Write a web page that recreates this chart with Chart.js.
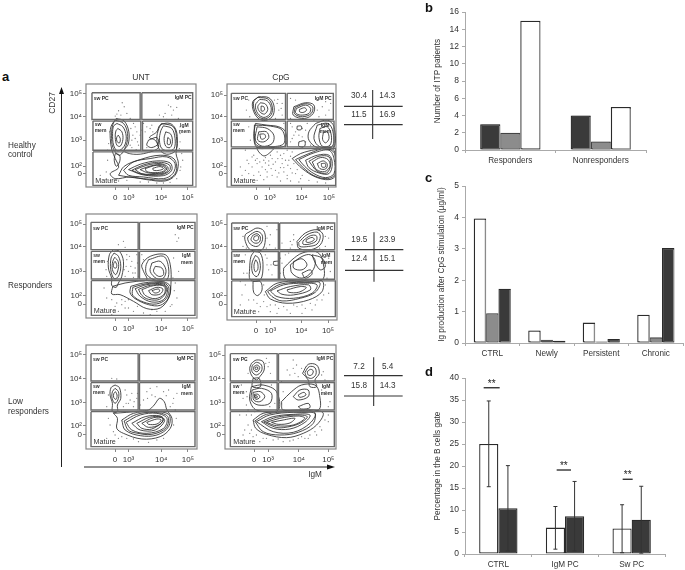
<!DOCTYPE html>
<html><head><meta charset="utf-8">
<script src="https://cdn.jsdelivr.net/npm/chart.js@4"></script>
<style>
html,body{margin:0;padding:0;background:#fff;width:685px;height:570px;overflow:hidden;font-family:"Liberation Sans",Arial,sans-serif;color:#333}
canvas{position:absolute}
.t{position:absolute;white-space:nowrap;transform:translateY(-50%);line-height:1}
svg{position:absolute;left:0;top:0}
</style></head><body>
<svg id="ov" width="685" height="570"></svg>
<script>
/* ---------- panel b ---------- */
const bLabels=["Responders","Nonresponders"];
const bDark=[3,4];
const bGray=[2,1];
const bWhite=[15,5];
/* ---------- panel c ---------- */
const cLabels=["CTRL","Newly","Persistent","Chronic"];
const cWhite=[3.97,0.4,0.65,0.9];
const cGray=[0.95,0.1,0.05,0.18];
const cDark=[1.73,0.07,0.13,3.03];
/* ---------- panel d ---------- */
const dLabels=["CTRL","IgM PC","Sw PC"];
const dWhite=[25,6,5.8];
const dDark=[10.4,8.6,7.8];
const dWhiteLow=[15.3,1.1,0.3];
const dWhiteHigh=[34.8,10.8,11.2];
const dDarkLow=[0.7,0.7,0.2];
const dDarkHigh=[20.1,16.5,15.4];
const dSigLevel=[37.8,19.1,17];
const dSigFrom=[-0.22,-0.125,-0.135];
const dSigTo=[0.02,0.09,0.015];
/* ---------- panel a: percentages ---------- */
const aTableHealthy=["30.4","14.3","11.5","16.9"];
const aTableResponders=["19.5","23.9","12.4","15.1"];
const aTableLow=["7.2","5.4","15.8","14.3"];
/* ---------- panel a: flow plots, in display channels ---------- */
const xTickNames=["0","10³","10⁴","10⁵"];
const yTickNames=["10⁵","10⁴","10³","10²","0"];
const p1Contours=[
[[348,175],[372,183],[386,215],[384,252],[372,272],[400,282],[440,278],[475,262],[465,240],[448,232],[470,215],[480,195],[510,190],[528,210],[532,250],[528,280],[535,310],[525,345],[495,362],[440,358],[390,350],[345,355],[330,340],[355,322],[345,295],[335,270],[330,235],[332,200]],
[[345,180],[370,190],[382,220],[378,255],[358,285],[338,262],[334,225],[337,195]],
[[350,190],[368,200],[378,228],[372,258],[352,272],[340,255],[337,220],[340,198]],
[[353,205],[365,215],[368,238],[360,258],[350,255],[345,232],[347,212]],
[[354,225],[360,235],[358,248],[351,245],[349,233]],
[[345,280],[358,285],[358,305],[348,318],[342,300]],
[[484,190],[520,200],[530,240],[526,272],[500,282],[478,268],[470,235],[476,205]],
[[490,197],[515,205],[525,235],[522,265],[505,272],[485,265],[478,240],[482,212]],
[[497,215],[512,222],[517,245],[510,262],[497,258],[492,235]],
[[503,232],[510,238],[510,252],[502,252]],
[[355,345],[372,318],[420,298],[480,285],[522,296],[528,335],[500,358],[430,355],[385,350]],
[[370,330],[400,305],[450,295],[500,290],[525,310],[518,340],[490,355],[430,350],[385,345]],
[[385,328],[420,312],[470,302],[510,308],[515,330],[490,346],[430,344]],
[[395,330],[430,314],[475,306],[508,314],[508,332],[480,344],[428,342]],
[[405,328],[440,315],[480,310],[503,320],[500,335],[470,342],[425,340]],
[[420,328],[455,316],[488,314],[500,326],[485,338],[445,338]],
[[435,325],[470,315],[495,322],[490,333],[465,337],[440,334]],
[[458,324],[480,319],[490,325],[478,330],[460,330]],
[[445,240],[470,232],[475,250],[455,262],[440,255]]];
const p2Contours=[
[[775,110],[805,113],[820,135],[818,165],[800,180],[778,178],[760,155],[757,125]],
[[772,112],[803,117],[815,138],[813,162],[795,176],[775,170],[762,150],[760,125]],
[[778,118],[800,122],[812,142],[808,162],[790,172],[772,160],[765,135]],
[[780,128],[795,132],[802,148],[792,162],[778,155],[772,140]],
[[782,138],[790,140],[792,150],[783,153]],
[[880,140],[915,128],[940,135],[938,160],[912,175],[878,165]],
[[884,142],[915,131],[936,140],[932,160],[906,170],[882,161]],
[[888,145],[915,135],[930,145],[925,160],[900,165],[885,158]],
[[897,148],[912,143],[918,150],[908,157],[897,155]],
[[765,190],[800,195],[835,200],[855,215],[855,255],[815,262],[770,262],[760,230]],
[[762,195],[810,198],[845,210],[850,250],[805,260],[768,255],[762,225]],
[[770,200],[800,205],[820,225],[815,250],[785,258],[765,240]],
[[775,215],[798,215],[805,232],[790,245],[772,240]],
[[778,222],[792,222],[795,232],[783,237]],
[[768,262],[820,262],[805,280],[790,287],[775,275]],
[[945,190],[980,180],[1000,200],[1000,262],[950,262],[925,240],[925,215]],
[[950,195],[982,190],[997,215],[995,258],[958,260],[940,235]],
[[958,205],[980,200],[992,225],[988,255],[965,258],[955,232]],
[[968,218],[980,215],[985,235],[975,248],[966,238]],
[[875,295],[900,280],[945,268],[990,262],[1005,285],[1005,345],[985,358],[945,350],[905,325]],
[[885,298],[925,280],[975,265],[1002,280],[1003,342],[980,355],[940,346],[908,322]],
[[895,298],[940,278],[985,270],[1000,295],[1000,340],[975,352],[940,340],[912,318]],
[[915,300],[950,285],[985,285],[995,310],[985,340],[955,338],[925,322]],
[[925,303],[955,288],[985,290],[990,315],[978,338],[950,333]],
[[935,305],[960,292],[982,298],[988,318],[972,334],[948,328]],
[[950,310],[968,302],[980,312],[975,326],[958,325]],
[[962,310],[974,310],[974,320],[964,320]],
[[895,245],[912,242],[912,258],[895,258]],
[[890,198],[902,198],[902,208],[890,208]]];
const p3Contours=[
[[340,135],[358,140],[370,170],[365,215],[355,235],[348,248],[335,242],[335,222],[325,190],[328,150]],
[[342,145],[355,155],[362,185],[355,215],[342,222],[332,195],[333,160]],
[[344,158],[354,170],[355,190],[347,210],[337,195],[338,170]],
[[345,170],[350,180],[348,190],[341,188],[341,176]],
[[338,245],[375,235],[410,230],[440,225],[430,200],[425,180],[450,155],[495,150],[510,180],[512,240],[505,280],[480,310],[440,312],[400,290],[360,270],[335,268]],
[[445,165],[490,155],[505,190],[500,225],[470,228],[440,210],[437,185]],
[[455,175],[480,170],[497,195],[490,220],[470,222],[450,200]],
[[465,185],[485,190],[490,210],[475,215],[460,200]],
[[392,245],[430,235],[490,232],[510,245],[505,280],[480,302],[445,300],[405,282],[390,265]],
[[398,248],[435,238],[490,235],[506,250],[498,282],[468,298],[430,292],[398,272]],
[[405,252],[440,240],[490,238],[502,255],[490,285],[455,292],[420,275]],
[[415,254],[450,242],[492,242],[498,260],[478,284],[445,284],[425,272]],
[[425,255],[460,243],[492,245],[492,268],[465,282],[435,272]],
[[445,258],[470,248],[488,253],[480,268],[455,270]],
[[455,258],[475,253],[478,260],[465,265]]];
const p4Contours=[
[[750,80],[770,70],[790,78],[795,105],[785,135],[750,135],[735,110],[735,90]],
[[752,88],[770,80],[785,90],[785,110],[770,125],[750,118],[742,100]],
[[757,92],[770,87],[780,97],[777,112],[763,115],[752,105]],
[[762,95],[772,93],[775,102],[768,108],[760,104]],
[[890,110],[915,85],[950,75],[968,90],[960,120],[930,135],[895,130]],
[[895,113],[920,90],[950,82],[960,95],[950,118],[925,125],[898,125]],
[[908,108],[930,93],[948,93],[948,108],[928,118],[908,118]],
[[918,105],[935,98],[942,104],[930,112],[918,112]],
[[762,140],[780,145],[788,180],[780,225],[750,225],[748,190],[752,155]],
[[765,152],[775,160],[780,190],[770,215],[757,205],[755,175]],
[[766,165],[772,175],[772,195],[764,200],[761,180]],
[[758,230],[780,230],[785,255],[772,272],[760,262]],
[[850,190],[875,165],[905,145],[945,140],[965,160],[965,225],[860,225],[850,210]],
[[870,180],[905,155],[930,150],[945,170],[935,200],[905,220],[875,205]],
[[880,170],[905,162],[920,180],[905,195],[880,190]],
[[905,205],[930,195],[935,208],[915,220]],
[[935,150],[965,160],[975,185],[960,195],[945,175]],
[[795,260],[830,235],[900,228],[965,228],[965,260],[925,285],[860,295],[810,282]],
[[802,260],[840,238],[905,232],[958,233],[945,262],[900,280],[845,288],[815,275]],
[[810,258],[850,240],[910,235],[950,240],[935,265],[880,280],[830,275]],
[[830,258],[870,245],[925,240],[930,255],[880,270],[845,268]],
[[860,255],[900,245],[918,248],[895,262],[865,262]],
[[820,170],[835,170],[835,180],[820,180]]];
const p5Contours=[
[[345,150],[358,158],[362,190],[352,210],[352,230],[337,230],[337,205],[330,180],[333,158]],
[[345,160],[355,170],[355,190],[345,205],[336,190],[337,170]],
[[346,170],[351,180],[348,193],[341,188],[341,176]],
[[340,235],[380,232],[420,228],[445,225],[462,210],[478,190],[492,200],[500,225],[515,250],[510,280],[480,305],[425,312],[370,295],[350,280],[352,250]],
[[365,255],[400,235],[450,230],[505,238],[505,275],[470,300],[420,302],[375,285]],
[[372,258],[410,238],[460,232],[502,244],[498,278],[455,298],[408,294],[384,285]],
[[378,262],[420,240],[470,235],[500,250],[490,280],[440,295],[395,285]],
[[395,265],[435,245],[480,243],[493,258],[465,285],[420,285]],
[[410,265],[448,247],[484,246],[488,258],[455,282],[425,280]],
[[425,265],[460,248],[488,250],[480,268],[445,277]],
[[440,262],[470,252],[483,255],[470,267],[445,268]]];
const p6Contours=[
[[755,85],[770,75],[790,80],[793,105],[780,125],[770,135],[755,120],[750,100]],
[[757,92],[770,82],[785,90],[785,108],[770,120],[757,110]],
[[762,95],[772,90],[780,98],[772,110],[762,105]],
[[766,97],[773,96],[774,102],[767,103]],
[[760,130],[778,130],[782,155],[758,155]],
[[908,115],[925,88],[950,90],[958,115],[945,135],[950,155],[930,155],[925,135]],
[[915,112],[928,95],[945,98],[948,118],[935,130],[920,125]],
[[922,110],[932,103],[940,108],[935,120],[925,120]],
[[755,155],[790,150],[830,170],[835,225],[770,225],[750,195]],
[[757,165],[785,160],[815,175],[810,205],[775,210],[755,195]],
[[760,172],[782,170],[795,185],[780,200],[762,195]],
[[763,178],[775,178],[780,187],[768,193]],
[[765,182],[772,183],[772,188],[766,188]],
[[845,200],[875,170],[905,150],[945,150],[958,175],[955,225],[850,225]],
[[880,185],[900,165],[925,165],[925,185],[895,195]],
[[895,180],[912,172],[918,180],[900,187]],
[[895,215],[925,205],[930,218],[905,222]],
[[760,255],[790,235],[850,228],[940,225],[970,235],[950,270],[910,295],[860,308],[800,298],[768,280]],
[[765,258],[800,238],[865,230],[942,230],[940,265],[895,292],[840,300],[790,290]],
[[770,260],[810,240],[880,232],[945,235],[930,265],[880,292],[820,290]],
[[785,260],[820,245],[880,238],[930,240],[915,262],[870,282],[820,280]],
[[792,261],[830,247],[888,240],[922,245],[898,266],[850,278],[825,276]],
[[800,262],[840,250],[895,243],[915,250],[880,270],[830,272]],
[[815,262],[850,255],[885,250],[870,264],[835,268]]];
const p1Dots=[[366,128],[372,140],[355,152],[380,160],[505,135],[520,150],[495,160],[530,142],[490,170],[515,165],[400,190],[410,215],[395,240],[415,255],[395,262],[405,200],[440,200],[430,190],[455,195],[440,262],[420,225],[540,245],[545,280],[548,300],[540,330],[322,300],[318,335],[330,360],[380,360],[420,365],[470,368],[510,366],[530,355],[360,178],[345,168],[390,175],[300,345],[540,200],[535,175],[392,205],[398,225],[405,235],[412,245],[390,255],[425,210],[435,215],[450,205],[458,215],[408,268],[425,270],[322,270],[325,250],[328,215],[500,178],[525,178],[512,140],[478,165],[362,165],[350,162],[540,220],[538,265],[542,320],[355,362],[445,365],[490,368]];
const p2Dots=[[745,120],[738,150],[748,170],[830,130],[835,150],[845,165],[870,115],[885,120],[950,120],[965,140],[975,165],[960,110],[990,130],[850,190],[875,200],[880,225],[870,245],[905,230],[920,190],[885,215],[915,210],[930,255],[745,200],[750,240],[735,270],[760,285],[770,295],[790,300],[810,285],[830,275],[850,280],[865,300],[845,310],[825,305],[805,315],[785,320],[770,310],[755,320],[775,335],[800,335],[825,330],[850,335],[870,325],[885,340],[905,345],[925,360],[895,365],[860,355],[830,350],[800,350],[770,360],[745,340],[740,300],[720,320],[725,345],[880,310],[860,270],[845,295],[815,295],[795,308],[780,345],[815,345],[840,322],[860,345],[900,355],[950,365],[975,368],[880,265],[905,262],[755,290],[765,300],[778,305],[795,292],[805,302],[818,312],[832,295],[840,285],[855,300],[870,288],[875,275],[795,328],[812,325],[835,338],[850,322],[862,315],[875,338],[890,328],[745,310],[735,330],[760,345],[790,358],[840,362],[870,362],[822,120],[832,118],[845,130],[842,145],[825,175],[870,175],[950,150],[955,170],[985,150],[975,125],[870,190],[895,225],[915,245],[905,205],[875,235],[940,180]];
const p3Dots=[[370,110],[355,120],[375,128],[525,90],[535,100],[530,110],[380,150],[395,170],[405,190],[385,200],[410,150],[375,215],[415,215],[405,205],[430,165],[520,160],[535,200],[525,235],[530,280],[515,300],[320,215],[312,250],[320,280],[335,285],[345,305],[365,300],[385,310],[400,320],[430,325],[470,320],[355,320],[335,330],[375,290],[495,320],[450,330],[425,150],[380,165],[378,185],[392,185],[398,205],[372,195],[388,155],[400,218],[412,175],[385,285],[365,285],[350,295],[345,320],[375,310],[412,305],[455,315],[510,305],[522,258],[518,220],[322,170],[318,195]];
const p4Dots=[[725,70],[728,125],[800,65],[810,90],[808,120],[830,75],[825,130],[880,90],[875,120],[845,115],[970,70],[985,100],[975,125],[870,130],[800,160],[805,195],[815,210],[795,150],[720,170],[730,205],[735,150],[840,160],[855,150],[840,205],[985,160],[990,200],[980,220],[735,240],[725,270],[745,285],[790,290],[780,305],[810,300],[835,310],[860,315],[890,305],[915,310],[945,300],[965,285],[985,265],[720,300],[750,315],[810,320],[905,325],[775,320],[975,240],[740,205],[865,145],[880,105],[885,135],[870,110],[975,95],[968,135],[958,130],[800,100],[798,130],[728,95],[738,130],[720,230],[790,240],[792,270],[760,285],[770,295],[800,305],[825,300],[850,305],[880,300],[905,300],[930,295],[950,285],[970,270],[830,325],[870,325],[935,315],[800,180],[812,180],[845,175]];
const p5Dots=[[335,130],[350,132],[375,165],[395,175],[385,205],[400,215],[410,190],[370,215],[440,170],[430,195],[450,160],[470,155],[490,170],[505,165],[520,190],[530,175],[510,215],[525,225],[420,210],[325,250],[330,270],[340,290],[320,310],[355,310],[380,310],[415,320],[470,315],[520,270],[528,250],[490,310],[465,185],[380,180],[390,195],[402,200],[378,205],[412,175],[442,190],[455,180],[498,182],[518,205],[325,180],[320,215],[345,300],[365,305],[400,312],[445,322]];
const p6Dots=[[740,75],[745,115],[800,70],[805,95],[812,115],[880,100],[870,120],[895,125],[905,100],[880,75],[970,110],[975,135],[845,140],[725,150],[730,190],[740,210],[815,150],[850,170],[965,165],[990,200],[985,215],[740,240],[745,270],[750,295],[735,285],[770,300],[780,320],[820,315],[850,320],[895,310],[930,300],[960,275],[975,255],[985,240],[730,300],[800,310],[870,318],[915,310],[945,290],[720,240],[765,230],[798,85],[808,82],[885,115],[862,105],[890,90],[965,120],[978,170],[740,170],[742,185],[810,215],[825,205],[745,225],[755,240],[755,285],[760,305],[790,310],[835,312],[880,315],[905,305],[925,310],[950,300],[965,285],[985,260]];
const gatesP1=[[275,98,420,178],[425,98,578,178],[278,183,422,270],[427,183,578,270],[278,275,578,375]];
const gatesP2=[[693,100,855,178],[860,100,998,178],[693,183,855,260],[860,183,1000,260],[693,265,1005,375]];
const gatesP3=[[273,53,414,135],[418,53,584,135],[274,140,414,223],[418,140,584,223],[274,228,584,332]];
const gatesP4=[[694,55,834,135],[838,55,1003,135],[694,140,834,223],[838,140,1003,223],[694,228,1005,335]];
const gatesP5=[[273,56,414,138],[418,56,584,138],[273,143,414,225],[418,143,584,225],[273,230,584,335]];
const gatesP6=[[692,56,832,138],[836,56,1003,138],[692,143,832,225],[836,143,1003,225],[692,230,1003,335]];
const xTicksP1=[345,385,483,563], yTicksP1=[100,170,240,318,340];
const xTicksP2=[767,808,903,985], yTicksP2=[105,170,243,318,340];
const xTicksP3=[345,385,483,563], yTicksP3=[58,125,200,272,298];
const xTicksP4=[767,810,903,983], yTicksP4=[58,125,200,272,298];
const xTicksP5=[345,385,483,563], yTicksP5=[58,130,202,272,298];
const xTicksP6=[763,805,897,985], yTicksP6=[60,130,202,272,298];

/* ---------- layout ---------- */
const PLOTS=[
 {contours:p1Contours,dots:p1Dots,gates:gatesP1,xt:xTicksP1,yt:yTicksP1,frame:[257,72,588,380],off:60},
 {contours:p2Contours,dots:p2Dots,gates:gatesP2,xt:xTicksP2,yt:yTicksP2,frame:[680,72,1006,380],off:60},
 {contours:p3Contours,dots:p3Dots,gates:gatesP3,xt:xTicksP3,yt:yTicksP3,frame:[258,28,590,340],off:205},
 {contours:p4Contours,dots:p4Dots,gates:gatesP4,xt:xTicksP4,yt:yTicksP4,frame:[680,28,1010,345],off:205},
 {contours:p5Contours,dots:p5Dots,gates:gatesP5,xt:xTicksP5,yt:yTicksP5,frame:[258,30,590,342],off:335},
 {contours:p6Contours,dots:p6Dots,gates:gatesP6,xt:xTicksP6,yt:yTicksP6,frame:[676,30,1008,342],off:335}];
const FF='"Liberation Sans",Arial,sans-serif';
function text(s,x,y,o={}){
  const d=document.createElement('div');d.className='t';d.textContent=s;
  d.style.left=x+'px';d.style.top=y+'px';
  d.style.fontSize=(o.size||8.2)+'px';
  if(o.bold)d.style.fontWeight='bold';
  if(o.color)d.style.color=o.color;
  if(o.center)d.style.transform='translate(-50%,-50%)';
  if(o.right)d.style.transform='translate(-100%,-50%)';
  if(o.rot)d.style.transform='translate(-50%,-50%) rotate(-90deg)';
  document.body.appendChild(d);
}
function canvas(l,t,w,h){
  const c=document.createElement('canvas');
  c.style.left=l+'px';c.style.top=t+'px';c.style.width=w+'px';c.style.height=h+'px';
  c.width=w;c.height=h;document.body.appendChild(c);return c;
}
function pts(a){return a.map(p=>({x:p[0],y:p[1]}));}
const framePlugin={id:'frame',beforeDatasetsDraw(ch){const a=ch.chartArea,c=ch.ctx;c.save();c.strokeStyle='#858585';c.lineWidth=1.2;c.strokeRect(a.left,a.top,a.right-a.left,a.bottom-a.top);c.restore();}};
const LEFT=30,TOP=6,RIGHT=8,BOTTOM=22;

PLOTS.forEach(p=>{
  const [x0,y0,x1,y1]=p.frame;
  const fl=x0/3,ft=p.off+y0/3,fw=(x1-x0)/3,fh=(y1-y0)/3;
  const c=canvas(fl-LEFT,ft-TOP,Math.round(fw+LEFT+RIGHT),Math.round(fh+TOP+BOTTOM));
  const ds=[];
  p.gates.forEach(g=>ds.push({data:pts([[g[0],g[1]],[g[2],g[1]],[g[2],g[3]],[g[0],g[3]],[g[0],g[1]]]),showLine:true,borderColor:'#6a6a6a',borderWidth:1.4,pointRadius:0,tension:0}));
  p.contours.forEach(k=>ds.push({data:pts(k.concat([k[0]])),showLine:true,borderColor:'#2c2c2c',borderWidth:0.85,pointRadius:0,tension:0.35}));
  ds.push({data:pts(p.dots),showLine:false,pointRadius:0.65,backgroundColor:'#808080',borderWidth:0});
  const xN=Object.fromEntries(p.xt.map((v,i)=>[v,xTickNames[i]]));
  const yN=Object.fromEntries(p.yt.map((v,i)=>[v,yTickNames[i]]));
  new Chart(c,{type:'scatter',data:{datasets:ds},plugins:[framePlugin],options:{
    responsive:false,animation:false,events:[],
    layout:{autoPadding:false,padding:{left:0,top:TOP,right:RIGHT,bottom:0}},
    plugins:{legend:{display:false},tooltip:{enabled:false}},
    scales:{
      x:{type:'linear',min:x0,max:x1,afterFit(s){s.height=BOTTOM;},
        afterBuildTicks(s){s.ticks=p.xt.map(v=>({value:v}));},
        grid:{drawOnChartArea:false,tickLength:3,color:'#888'},border:{display:false},
        ticks:{autoSkip:false,maxRotation:0,padding:3,color:'#333',font:{size:8,family:FF},callback:v=>xN[v]}},
      y:{type:'linear',min:y0,max:y1,reverse:true,afterFit(s){s.width=LEFT;},
        afterBuildTicks(s){s.ticks=p.yt.map(v=>({value:v}));},
        grid:{drawOnChartArea:false,tickLength:3,color:'#888'},border:{display:false},
        ticks:{autoSkip:false,padding:1,color:'#333',font:{size:8,family:FF},callback:v=>yN[v]}}
    }}});
  /* gate captions */
  const g=p.gates, ox=v=>v/3, oy=v=>p.off+v/3;
  text('sw PC',ox(g[0][0])+2,oy(g[0][1])+5,{size:5,bold:true});
  text('IgM PC',ox(g[1][2])-1,oy(g[1][1])+4.5,{size:5,bold:true,right:true});
  text('sw',ox(g[2][0])+2,oy(g[2][1])+3,{size:5,bold:true});
  text('mem',ox(g[2][0])+2,oy(g[2][1])+9,{size:5,bold:true});
  text('IgM',ox(g[3][2])-4,oy(g[3][1])+3.5,{size:5,bold:true,right:true});
  text('mem',ox(g[3][2])-2,oy(g[3][1])+10,{size:5,bold:true,right:true});
  text('Mature',ox(g[4][0])+2.5,oy(g[4][3])-4.5,{size:7.2});
});

/* ---------- bar charts ---------- */
const shadowPlugin={id:'shadow',
  beforeDatasetsDraw(ch){ch.ctx.save();ch.ctx.shadowColor='#8a8a8a';ch.ctx.shadowOffsetX=1.3;ch.ctx.shadowOffsetY=0.3;ch.ctx.shadowBlur=0.5;},
  afterDatasetsDraw(ch){ch.ctx.restore();}};
function barChart(o){
  const c=canvas(o.box[0],o.box[1],o.box[2],o.box[3]);
  return new Chart(c,{type:'bar',data:{labels:o.labels,datasets:o.sets.map(s=>({data:s.data,backgroundColor:s.fill,borderColor:s.line,borderWidth:1.3,borderSkipped:false,barPercentage:1,categoryPercentage:o.cat}))},
   plugins:o.plugins,options:{responsive:false,animation:false,events:[],
    layout:{autoPadding:false,padding:{left:0,top:o.top,right:o.right,bottom:0}},
    plugins:{legend:{display:false},tooltip:{enabled:false}},
    scales:{
      x:{afterFit(s){s.height=o.xh;},grid:{drawOnChartArea:false,tickLength:3,color:'#aaa'},border:{color:'#aaa'},
         ticks:{maxRotation:0,autoSkip:false,padding:3,color:'#333',font:{size:8.2,family:FF}}},
      y:{min:0,max:o.max,afterFit(s){s.width=45;},grid:{drawOnChartArea:false,tickLength:3,color:'#aaa'},border:{color:'#aaa'},
         ticks:{stepSize:o.step,padding:3,color:'#333',font:{size:8.5,family:FF}},
         title:{display:true,text:o.title,color:'#333',font:{size:8.2,family:FF},padding:{top:o.tp,bottom:0}}}
    }}});
}
const DARK='#3a3a3a',GRAY='#8c8c8c',EDGE='#2a2a2a';
barChart({box:[420,4,265,166],labels:bLabels,max:16,step:2,top:8,right:39,xh:20,cat:0.665,tp:13,title:'Number of ITP patients',
  plugins:[shadowPlugin],
  sets:[{data:bDark,fill:DARK,line:EDGE},{data:bGray,fill:GRAY,line:'#444'},{data:bWhite,fill:'#fff',line:EDGE}]});
barChart({box:[420,178,265,180],labels:cLabels,max:5,step:1,top:7,right:2,xh:15,cat:0.68,tp:17,title:'Ig production after CpG stimulation (µg/ml)',
  plugins:[shadowPlugin],
  sets:[{data:cWhite,fill:'#fff',line:EDGE},{data:cGray,fill:GRAY,line:'#555'},{data:cDark,fill:DARK,line:EDGE}]});
const errPlugin={id:'err',afterDatasetsDraw(ch){
  const c=ch.ctx,y=ch.scales.y,x=ch.scales.x;
  const lows=[dWhiteLow,dDarkLow],highs=[dWhiteHigh,dDarkHigh];
  c.save();c.strokeStyle='#333';c.lineWidth=1;
  lows.forEach((lo,d)=>{ch.getDatasetMeta(d).data.forEach((b,i)=>{
    const a=y.getPixelForValue(lo[i]),e=y.getPixelForValue(highs[d][i]);
    c.beginPath();c.moveTo(b.x,a);c.lineTo(b.x,e);
    c.moveTo(b.x-2,a);c.lineTo(b.x+2,a);c.moveTo(b.x-2,e);c.lineTo(b.x+2,e);c.stroke();
  });});
  const w=x.getPixelForValue(1)-x.getPixelForValue(0);
  c.fillStyle='#222';c.textAlign='center';c.font='10px '+FF;c.lineWidth=1.2;c.strokeStyle='#111';
  dSigLevel.forEach((v,i)=>{
    const p=y.getPixelForValue(v),cx=x.getPixelForValue(i),a=cx+dSigFrom[i]*w,b=cx+dSigTo[i]*w;
    c.beginPath();c.moveTo(a,p);c.lineTo(b,p);c.stroke();
    c.fillText('**',(a+b)/2,p-1);
  });
  c.restore();}};
barChart({box:[420,370,265,200],labels:dLabels,max:40,step:5,top:8,right:20,xh:16,cat:0.575,tp:13,title:'Percentage in the B cells gate',
  plugins:[errPlugin],
  sets:[{data:dWhite,fill:'#fff',line:EDGE},{data:dDark,fill:DARK,line:EDGE}]});

/* ---------- panel a annotations ---------- */
[['a',2,76],['b',425,7],['c',425,177],['d',425,371]].forEach(a=>text(a[0],a[1],a[2],{size:13,bold:true,color:'#111'}));
text('UNT',141,77,{center:true,size:8.5});
text('CpG',281,77,{center:true,size:8.5});
text('CD27',52,103,{rot:true,size:8.5});
text('IgM',315,475,{center:true});
text('Healthy',8,146);text('control',8,155);
text('Responders',8,286);
text('Low',8,402);text('responders',8,412);

const TABLES=[
 {vals:aTableHealthy,v:[1118/3,60+90/3,60+237/3],h:[1032/3,1208/3,60+139/3,60+194/3],cx:[1077/3,1162/3],cy:[60+108/3,60+165/3]},
 {vals:aTableResponders,v:[1122/3,205+82/3,205+230/3],h:[1035/3,1210/3,205+134/3,205+196/3],cx:[1078/3,1162/3],cy:[205+105/3,205+162/3]},
 {vals:aTableLow,v:[1121/3,335+67/3,335+213/3],h:[1032/3,1208/3,335+122/3,335+183/3],cx:[1077/3,1163/3],cy:[335+95/3,335+153/3]}];
const ov=document.getElementById('ov');
function line(a,b,c,d,w,col){const l=document.createElementNS('http://www.w3.org/2000/svg','line');
  l.setAttribute('x1',a);l.setAttribute('y1',b);l.setAttribute('x2',c);l.setAttribute('y2',d);l.setAttribute('stroke',col||'#333');l.setAttribute('stroke-width',w||1);ov.appendChild(l);}
function tri(p){const t=document.createElementNS('http://www.w3.org/2000/svg','polygon');t.setAttribute('points',p);t.setAttribute('fill','#111');ov.appendChild(t);}
TABLES.forEach(t=>{
  line(t.v[0],t.v[1],t.v[0],t.v[2],1.1);
  line(t.h[0],t.h[2],t.h[1],t.h[2],1.1);
  line(t.h[0],t.h[3],t.h[1],t.h[3],1.1);
  t.vals.forEach((s,i)=>text(s,t.cx[i%2],t.cy[i>>1],{center:true,size:8.2}));
});
line(61.5,92,61.5,467,1,'#222');tri('61.5,87 59,94 64,94');
line(84,467,330,467,1,'#222');tri('335,467 327,464.5 327,469.5');
</script>
</body></html>
